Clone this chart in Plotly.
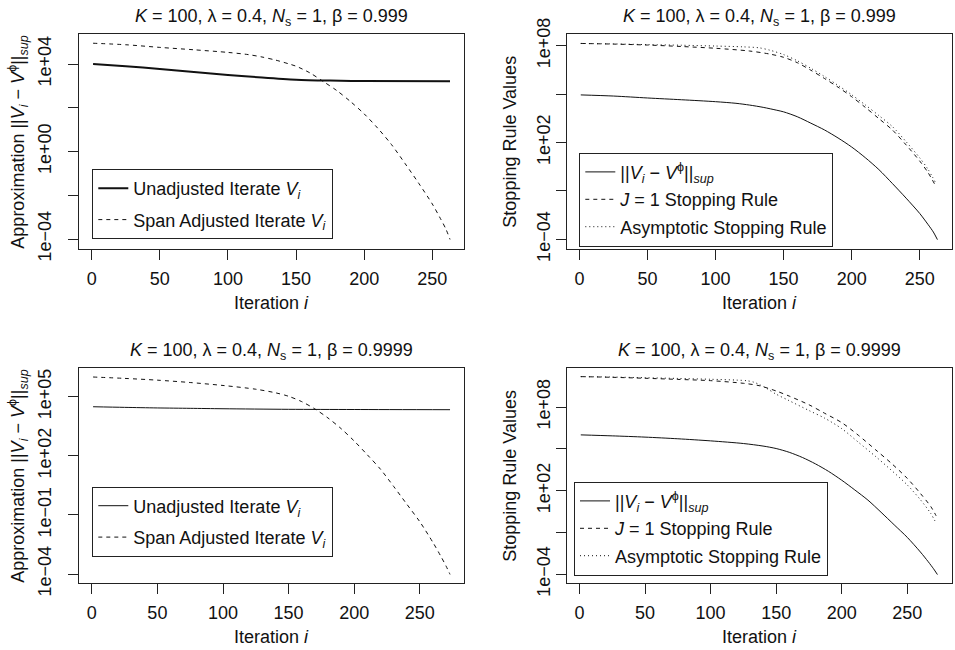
import plotly.graph_objects as go

# ---------------- data ----------------
# beta = 0.999
iters_unadj_999 = [1, 25, 50, 75, 100, 125, 150, 175, 200, 263]
unadj_999 = [1.0e4, 7.94e3, 5.89e3, 4.27e3, 3.16e3, 2.40e3, 1.91e3, 1.74e3, 1.66e3, 1.62e3]

iters_span_999 = [1, 25, 50, 75, 100, 115, 125, 135, 145, 150, 160, 170, 180, 190,
                  200, 210, 220, 230, 240, 250, 256, 260, 263]
span_999 = [8.91e4, 7.59e4, 5.75e4, 4.47e4, 3.39e4, 2.69e4, 2.09e4, 1.51e4, 1.0e4, 7.94e3,
            3.98e3, 1.58e3, 603, 191, 52.5, 11.5, 2.09, 0.282, 0.0355, 3.98e-3,
            8.51e-4, 2.82e-4, 9.55e-5]

iters_rule_999 = [1, 25, 50, 75, 100, 125, 140, 150, 160, 170, 180, 190, 200, 210,
                  220, 230, 240, 250, 256, 262]
j1_rule_999 = [1.38e8, 1.26e8, 1.10e8, 8.91e7, 6.92e7, 4.68e7, 3.02e7, 1.91e7, 8.91e6,
               3.02e6, 9.33e5, 2.69e5, 6.92e4, 1.51e4, 3.02e3, 589, 70.8, 7.08, 1.41, 0.182]

iters_asym_999 = [1, 25, 50, 75, 100, 120, 132, 140, 150, 160, 170, 180, 190, 200,
                  210, 220, 230, 240, 250, 256, 262]
asym_rule_999 = [1.38e8, 1.29e8, 1.17e8, 1.07e8, 9.55e7, 8.51e7, 7.41e7, 5.25e7, 2.82e7,
                 1.17e7, 3.98e6, 1.23e6, 3.47e5, 9.12e4, 2.14e4, 4.68e3, 955, 112, 11.2,
                 2.24, 0.282]

# beta = 0.9999
iters_unadj_9999 = [1, 25, 50, 75, 100, 150, 200, 273]
unadj_9999 = [3.09e4, 2.88e4, 2.69e4, 2.57e4, 2.45e4, 2.29e4, 2.24e4, 2.19e4]

iters_span_9999 = [1, 25, 50, 75, 100, 125, 140, 150, 160, 170, 180, 190, 200, 210,
                   220, 230, 240, 250, 260, 266, 270, 273]
span_9999 = [1.0e6, 8.51e5, 6.92e5, 5.25e5, 3.72e5, 2.40e5, 1.58e5, 1.05e5, 5.62e4,
             2.40e4, 8.32e3, 2.40e3, 562, 112, 20.9, 2.82, 0.355, 0.0447, 3.98e-3,
             7.94e-4, 2.51e-4, 9.55e-5]

iters_rule_9999 = [1, 25, 50, 75, 100, 125, 137, 150, 160, 175, 187, 200, 213, 226,
                   238, 250, 260, 268, 272]
j1_rule_9999 = [1.51e10, 1.35e10, 1.15e10, 9.55e9, 7.76e9, 5.01e9, 3.39e9, 1.41e9,
                6.03e8, 1.45e8, 3.55e7, 7.59e6, 8.91e5, 8.32e4, 8.91e3, 759, 63.1,
                7.08, 1.58]

iters_asym_9999 = [1, 25, 50, 75, 100, 120, 128, 133, 137, 143, 150, 160, 175, 187,
                   200, 213, 226, 238, 250, 260, 268, 272]
asym_rule_9999 = [1.51e10, 1.41e10, 1.26e10, 1.12e10, 9.77e9, 8.51e9, 7.59e9, 6.03e9,
                  4.17e9, 2.09e9, 8.32e8, 2.82e8, 5.62e7, 1.58e7, 2.82e6, 2.82e5,
                  2.75e4, 2.82e3, 257, 22.4, 2.24, 0.457]

x_ticks = [0, 50, 100, 150, 200, 250]
y_ticks_left_top = [1e-4, 1e-2, 1e0, 1e2, 1e4]
y_text_left_top = ["1e\u221204", "", "1e+00", "", "1e+04"]
y_ticks_left_bot = [1e-4, 1e-1, 1e2, 1e5]
y_text_left_bot = ["1e\u221204", "1e\u221201", "1e+02", "1e+05"]
y_ticks_right = [1e-4, 1e-1, 1e2, 1e5, 1e8]
y_text_right = ["1e\u221204", "", "1e+02", "", "1e+08"]

# ---------------- layout helpers ----------------
W, H = 955, 650
FONT = "Liberation Sans, Arial, Helvetica, sans-serif"
FS = 18
INK = "#111111"

def px_x(p):
    return p / W

def px_y(p):
    return 1 - p / H

# panel boxes in pixels: (left, right, top, bottom)
boxes = {
    1: (78.8, 464.3, 34.3, 249.0),
    2: (566.5, 951.7, 34.3, 249.0),
    3: (78.8, 464.3, 368.3, 583.3),
    4: (566.5, 951.7, 368.3, 583.3),
}
x_ranges = {1: [-9.48, 273.48], 2: [-9.48, 273.48], 3: [-9.88, 283.88], 4: [-9.88, 283.88]}
y_ranges = {1: [-4.457, 5.358], 2: [-4.601, 8.707], 3: [-4.472, 6.442], 4: [-4.646, 10.776]}

fig = go.Figure()

V_i = "<i>V</i><sub><i>i</i></sub>"
norm = "||" + V_i + " \u2212 <i>V</i><sup>\u03d5</sup>||<sub><i>sup</i></sub>"

def add(x, y, panel, name, dash, width, legend):
    ax = "" if panel == 1 else str(panel)
    fig.add_trace(go.Scatter(
        x=x, y=y, mode="lines", name=name,
        line=dict(color=INK, width=width, dash=dash, shape="spline", smoothing=0.8),
        xaxis="x" + ax, yaxis="y" + ax,
        legend=legend, legendgroup=name + legend, hoverinfo="skip",
    ))

add(iters_unadj_999, unadj_999, 1, "Unadjusted Iterate " + V_i, "solid", 2, "legend")
add(iters_span_999, span_999, 1, "Span Adjusted Iterate " + V_i, "4px,4px", 1, "legend")

add(iters_span_999, span_999, 2, norm, "solid", 1, "legend2")
add(iters_rule_999, j1_rule_999, 2, "<i>J</i> = 1 Stopping Rule", "4px,4px", 1, "legend2")
add(iters_asym_999, asym_rule_999, 2, "Asymptotic Stopping Rule", "1px,3px", 1, "legend2")

add(iters_unadj_9999, unadj_9999, 3, "Unadjusted Iterate " + V_i, "solid", 1, "legend3")
add(iters_span_9999, span_9999, 3, "Span Adjusted Iterate " + V_i, "4px,4px", 1, "legend3")

add(iters_span_9999, span_9999, 4, norm, "solid", 1, "legend4")
add(iters_rule_9999, j1_rule_9999, 4, "<i>J</i> = 1 Stopping Rule", "4px,4px", 1, "legend4")
add(iters_asym_9999, asym_rule_9999, 4, "Asymptotic Stopping Rule", "1px,3px", 1, "legend4")

layout = dict(
    template="none",
    width=W, height=H,
    margin=dict(l=0, r=0, t=0, b=0, autoexpand=False),
    paper_bgcolor="white", plot_bgcolor="white",
    font=dict(family=FONT, size=FS, color=INK),
    showlegend=True,
)

y_tick_sets = {
    1: (y_ticks_left_top, y_text_left_top, 10),
    2: (y_ticks_right, y_text_right, -2),
    3: (y_ticks_left_bot, y_text_left_bot, 10),
    4: (y_ticks_right, y_text_right, -2),
}

for p, (l, r, t, b) in boxes.items():
    ax = "" if p == 1 else str(p)
    yv, yt, standoff = y_tick_sets[p]
    layout["xaxis" + ax] = dict(
        domain=[px_x(l), px_x(r)], range=x_ranges[p], anchor="y" + ax,
        tickvals=x_ticks, ticks="outside", ticklen=10, tickwidth=1, tickcolor="#222",
        showline=True, mirror=True, linecolor="#222", linewidth=1,
        showgrid=False, zeroline=False, ticklabelstandoff=3, automargin=False,
        tickfont=dict(size=FS),
    )
    layout["yaxis" + ax] = dict(
        domain=[px_y(b), px_y(t)], type="log", range=y_ranges[p], anchor="x" + ax,
        tickvals=yv, ticktext=yt, tickangle=-90,
        ticks="outside", ticklen=10, tickwidth=1, tickcolor="#222",
        showline=True, mirror=True, linecolor="#222", linewidth=1,
        showgrid=False, zeroline=False, ticklabelstandoff=standoff, automargin=False,
        tickfont=dict(size=FS),
    )

legend_pos = {
    "legend": (92.3, 169.0, 5),
    "legend2": (579.3, 152.7, 1),
    "legend3": (92.3, 486.5, 5),
    "legend4": (574.0, 481.7, 1),
}
for name, (lx, ly, gap) in legend_pos.items():
    layout[name] = dict(
        x=px_x(lx), y=px_y(ly), xanchor="left", yanchor="top",
        bordercolor="#222", borderwidth=1, bgcolor="white",
        font=dict(size=FS), tracegroupgap=gap, itemwidth=30,
    )

fig.update_layout(**layout)

titles = {1: "0.999", 2: "0.999", 3: "0.9999", 4: "0.9999"}
ann = []
for p, (l, r, t, b) in boxes.items():
    cx = (l + r) / 2
    cy = (t + b) / 2
    ann.append(dict(
        text="<i>K</i> = 100, \u03bb = 0.4, <i>N</i><sub>s</sub> = 1, \u03b2 = " + titles[p],
        x=px_x(cx), y=px_y(t - 17), xref="paper", yref="paper",
        xanchor="center", yanchor="middle", showarrow=False, font=dict(size=FS),
    ))
    ann.append(dict(
        text="Iteration <i>i</i>", x=px_x(cx), y=px_y(b + 54), xref="paper", yref="paper",
        xanchor="center", yanchor="middle", showarrow=False, font=dict(size=FS),
    ))
    if p in (1, 3):
        ytitle, tx = "Approximation " + norm, 18
    else:
        ytitle, tx = "Stopping Rule Values", 510
    ann.append(dict(
        text=ytitle, x=px_x(tx), y=px_y(cy), xref="paper", yref="paper",
        xanchor="center", yanchor="middle", textangle=-90, showarrow=False,
        font=dict(size=FS),
    ))
fig.update_layout(annotations=ann)

fig.write_html("out.html")
